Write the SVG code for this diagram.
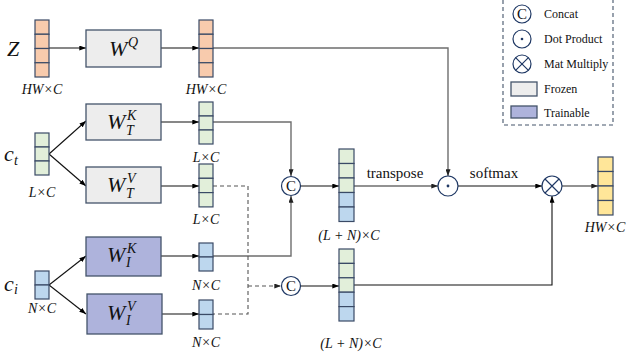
<svg xmlns="http://www.w3.org/2000/svg" width="628" height="358" viewBox="0 0 628 358">
  <defs>
    <marker id="ab" viewBox="0 0 8 6" refX="8" refY="3" markerWidth="7" markerHeight="5" markerUnits="userSpaceOnUse" orient="auto">
      <path d="M0,0 L8,3 L0,6 z" fill="#000"/>
    </marker>
    <marker id="ag" viewBox="0 0 8 6" refX="8" refY="3" markerWidth="7" markerHeight="5" markerUnits="userSpaceOnUse" orient="auto">
      <path d="M0,0 L8,3 L0,6 z" fill="#222"/>
    </marker>
    <style>
      .tok rect { stroke: #3a4a66; stroke-width: 1.2; }
      .or { fill: #f8cbad; }
      .gr { fill: #e2efda; }
      .bl { fill: #bdd7ee; }
      .ye { fill: #ffe699; }
      .frozen { fill: #ededed; stroke: #44546a; stroke-width: 1.3; }
      .train { fill: #aeb3dc; stroke: #44546a; stroke-width: 1.3; }
      .op { fill: #fff; stroke: #1f3864; stroke-width: 1.2; }
      .ln { fill: none; stroke: #111; stroke-width: 1.1; }
      .lg { fill: none; stroke: #6e6e6e; stroke-width: 1.4; }
      .dash { fill: none; stroke: #555; stroke-width: 1.1; stroke-dasharray: 4 3; }
      text { font-family: "Liberation Serif", "DejaVu Serif", serif; fill: #111; }
      .m { font-style: italic; font-size: 14px; }
      .mc { text-anchor: middle; }
      .big { font-size: 22px; }
      .t { font-size: 15px; }
      .lgd { font-size: 12px; }
      .ct { font-size: 15px; text-anchor: middle; }
    </style>
  </defs>

  <!-- connectors -->
  <g id="connectors">
    <line class="ln" x1="49" y1="48" x2="86" y2="48" marker-end="url(#ab)"/>
    <line class="ln" x1="161" y1="48" x2="199" y2="48" marker-end="url(#ab)"/>
    <polyline class="lg" points="213,48 448,48 448,176" marker-end="url(#ag)"/>

    <line class="ln" x1="49" y1="154" x2="86" y2="121" marker-end="url(#ab)"/>
    <line class="ln" x1="49" y1="154" x2="86" y2="186" marker-end="url(#ab)"/>
    <line class="ln" x1="161" y1="122" x2="199" y2="122" marker-end="url(#ab)"/>
    <line class="ln" x1="161" y1="186" x2="199" y2="186" marker-end="url(#ab)"/>

    <line class="ln" x1="49" y1="285" x2="86" y2="256" marker-end="url(#ab)"/>
    <line class="ln" x1="49" y1="285" x2="86" y2="314" marker-end="url(#ab)"/>
    <line class="ln" x1="161" y1="256" x2="199" y2="256" marker-end="url(#ab)"/>
    <line class="ln" x1="161" y1="314" x2="199" y2="314" marker-end="url(#ab)"/>

    <polyline class="lg" points="213,122 291,122 291,176" marker-end="url(#ag)"/>
    <polyline class="lg" points="213,256 291,256 291,196" marker-end="url(#ag)"/>

    <polyline class="dash" points="213,186 248,186 248,314 213,314"/>
    <line class="dash" x1="248" y1="286" x2="281" y2="286" marker-end="url(#ag)"/>

    <line class="ln" x1="300" y1="186" x2="339" y2="186" marker-end="url(#ab)"/>
    <line class="lg" x1="354" y1="186" x2="438" y2="186" marker-end="url(#ag)"/>
    <line class="ln" x1="458" y1="186" x2="542" y2="186" marker-end="url(#ab)"/>
    <line class="lg" x1="562" y1="186" x2="598" y2="186" marker-end="url(#ag)"/>

    <line class="ln" x1="301" y1="286" x2="339" y2="286" marker-end="url(#ab)"/>
    <polyline class="ln" points="354,285 552,285 552,196" marker-end="url(#ab)"/>

    <text class="t" x="395" y="178" text-anchor="middle">transpose</text>
    <text class="t" x="494" y="178" text-anchor="middle">softmax</text>
  </g>

  <!-- query input Z -->
  <g id="z-input">
    <text class="m big" x="7" y="56">Z</text>
    <g class="tok">
      <rect class="or" x="35" y="20" width="14" height="14.25"/>
      <rect class="or" x="35" y="34.25" width="14" height="14.25"/>
      <rect class="or" x="35" y="48.5" width="14" height="14.25"/>
      <rect class="or" x="35" y="62.75" width="14" height="14.25"/>
    </g>
    <text class="m mc" x="42" y="94">HW×C</text>
  </g>

  <g id="wq">
    <rect class="frozen" x="86" y="30" width="75" height="37"/>
    <text class="m big" x="109" y="56">W</text>
    <text class="m" x="128" y="47">Q</text>
  </g>

  <g id="q-out">
    <g class="tok">
      <rect class="or" x="199" y="20" width="14" height="14.25"/>
      <rect class="or" x="199" y="34.25" width="14" height="14.25"/>
      <rect class="or" x="199" y="48.5" width="14" height="14.25"/>
      <rect class="or" x="199" y="62.75" width="14" height="14.25"/>
    </g>
    <text class="m mc" x="206" y="94">HW×C</text>
  </g>

  <!-- text condition c_t -->
  <g id="ct-input">
    <text class="m big" x="4" y="161">c</text>
    <text class="m" x="14" y="165">t</text>
    <g class="tok">
      <rect class="gr" x="35" y="133" width="14" height="14"/>
      <rect class="gr" x="35" y="147" width="14" height="14"/>
      <rect class="gr" x="35" y="161" width="14" height="14"/>
    </g>
    <text class="m mc" x="42" y="197">L×C</text>
  </g>

  <g id="wtk">
    <rect class="frozen" x="86" y="104" width="75" height="36"/>
    <text class="m big" x="107" y="129">W</text>
    <text class="m" x="127" y="120">K</text>
    <text class="m" x="126" y="135">T</text>
  </g>

  <g id="wtv">
    <rect class="frozen" x="86" y="167" width="75" height="36"/>
    <text class="m big" x="107" y="192">W</text>
    <text class="m" x="127" y="183">V</text>
    <text class="m" x="126" y="198">T</text>
  </g>

  <g id="kt-out">
    <g class="tok">
      <rect class="gr" x="199" y="102" width="14" height="14"/>
      <rect class="gr" x="199" y="116" width="14" height="14"/>
      <rect class="gr" x="199" y="130" width="14" height="14"/>
    </g>
    <text class="m mc" x="206" y="162">L×C</text>
  </g>

  <g id="vt-out">
    <g class="tok">
      <rect class="gr" x="199" y="164" width="14" height="14.3"/>
      <rect class="gr" x="199" y="178.3" width="14" height="14.3"/>
      <rect class="gr" x="199" y="192.6" width="14" height="14.3"/>
    </g>
    <text class="m mc" x="206" y="224">L×C</text>
  </g>

  <!-- image condition c_i -->
  <g id="ci-input">
    <text class="m big" x="4" y="291">c</text>
    <text class="m" x="14" y="294">i</text>
    <g class="tok">
      <rect class="bl" x="35" y="271" width="14" height="14"/>
      <rect class="bl" x="35" y="285" width="14" height="14"/>
    </g>
    <text class="m mc" x="42" y="313">N×C</text>
  </g>

  <g id="wik">
    <rect class="train" x="86" y="237" width="75" height="39"/>
    <text class="m big" x="107" y="262">W</text>
    <text class="m" x="127" y="253">K</text>
    <text class="m" x="126" y="267">I</text>
  </g>

  <g id="wiv">
    <rect class="train" x="87" y="294" width="75" height="40"/>
    <text class="m big" x="107" y="320">W</text>
    <text class="m" x="127" y="311">V</text>
    <text class="m" x="126" y="325">I</text>
  </g>

  <g id="ki-out">
    <g class="tok">
      <rect class="bl" x="199" y="243" width="14" height="14"/>
      <rect class="bl" x="199" y="257" width="14" height="14"/>
    </g>
    <text class="m mc" x="206" y="290">N×C</text>
  </g>

  <g id="vi-out">
    <g class="tok">
      <rect class="bl" x="199" y="300" width="14" height="14.5"/>
      <rect class="bl" x="199" y="314.5" width="14" height="14.5"/>
    </g>
    <text class="m mc" x="206" y="347">N×C</text>
  </g>

  <!-- concat operators -->
  <g id="concat-k">
    <circle class="op" cx="291" cy="186" r="9.5"/>
    <text class="ct" x="291" y="191">C</text>
  </g>
  <g id="concat-v">
    <circle class="op" cx="291" cy="286" r="9.5"/>
    <text class="ct" x="291" y="291">C</text>
  </g>

  <g id="k-cat">
    <g class="tok">
      <rect class="gr" x="339" y="149" width="15" height="14.5"/>
      <rect class="gr" x="339" y="163.5" width="15" height="14.5"/>
      <rect class="gr" x="339" y="178" width="15" height="14.5"/>
      <rect class="bl" x="339" y="192.5" width="15" height="14.5"/>
      <rect class="bl" x="339" y="207" width="15" height="14.5"/>
    </g>
    <text class="m mc" x="349" y="240" font-size="15">(L + N)×C</text>
  </g>

  <g id="v-cat">
    <g class="tok">
      <rect class="gr" x="339" y="249" width="15" height="14.4"/>
      <rect class="gr" x="339" y="263.4" width="15" height="14.4"/>
      <rect class="gr" x="339" y="277.8" width="15" height="14.4"/>
      <rect class="bl" x="339" y="292.2" width="15" height="14.4"/>
      <rect class="bl" x="339" y="306.6" width="15" height="14.4"/>
    </g>
    <text class="m mc" x="351" y="348" font-size="15">(L + N)×C</text>
  </g>

  <g id="dot">
    <circle class="op" cx="448" cy="186" r="10"/>
    <circle cx="448" cy="186" r="1.4" fill="#1f3864"/>
  </g>

  <g id="matmul">
    <circle class="op" cx="552" cy="186" r="10"/>
    <path d="M545,179 L559,193 M559,179 L545,193" stroke="#1f3864" stroke-width="1.2"/>
  </g>

  <g id="output">
    <g class="tok">
      <rect class="ye" x="598" y="157" width="15" height="14.5"/>
      <rect class="ye" x="598" y="171.5" width="15" height="14.5"/>
      <rect class="ye" x="598" y="186" width="15" height="14.5"/>
      <rect class="ye" x="598" y="200.5" width="15" height="14.5"/>
    </g>
    <text class="m mc" x="605" y="232">HW×C</text>
  </g>

  <!-- legend -->
  <g id="legend">
    <rect x="503" y="-10" width="110" height="135" fill="none" stroke="#44546a" stroke-width="1.1" stroke-dasharray="4 3"/>
    <circle class="op" cx="522" cy="14" r="9"/>
    <text class="ct" x="522" y="19">C</text>
    <text class="lgd" x="544" y="18">Concat</text>
    <circle class="op" cx="522" cy="39" r="9"/>
    <circle cx="522" cy="39" r="1.3" fill="#1f3864"/>
    <text class="lgd" x="544" y="43">Dot Product</text>
    <circle class="op" cx="522" cy="64" r="9"/>
    <path d="M515.6,57.6 L528.4,70.4 M528.4,57.6 L515.6,70.4" stroke="#1f3864" stroke-width="1.2"/>
    <text class="lgd" x="544" y="68">Mat Multiply</text>
    <rect class="frozen" x="511" y="82" width="26" height="14"/>
    <text class="lgd" x="544" y="93">Frozen</text>
    <rect class="train" x="511" y="106" width="26" height="12"/>
    <text class="lgd" x="544" y="117">Trainable</text>
  </g>
</svg>
